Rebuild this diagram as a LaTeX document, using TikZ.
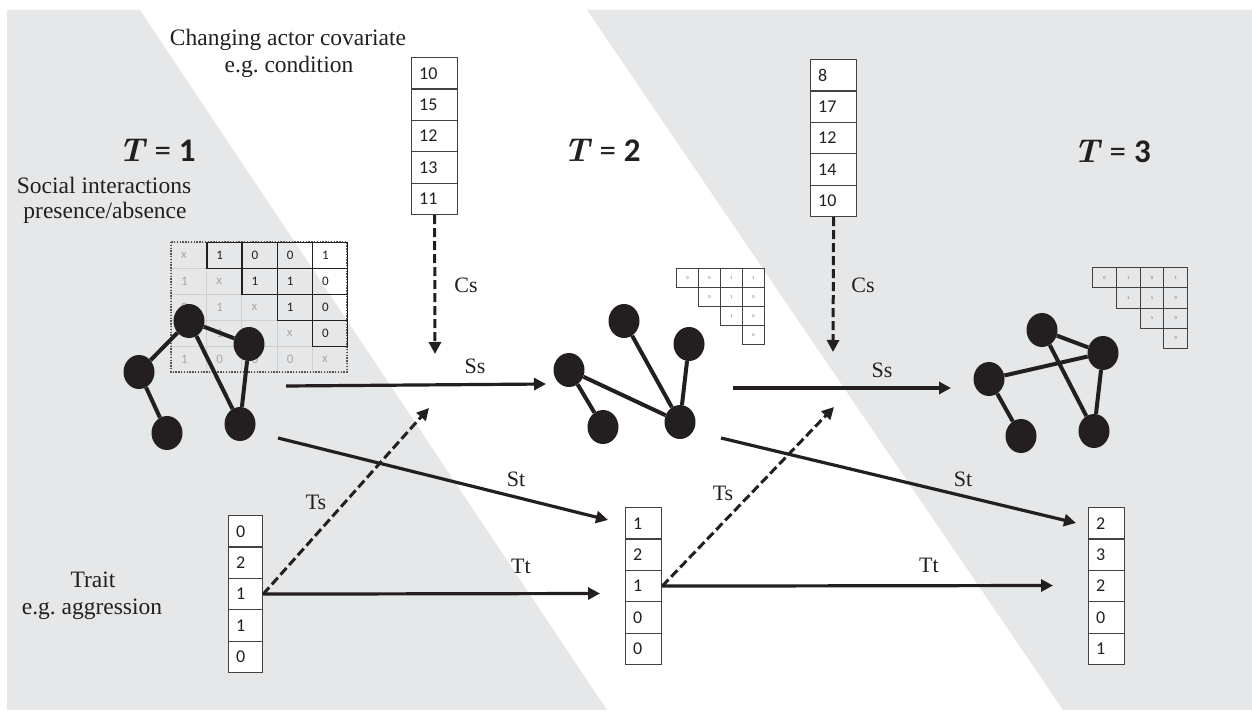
\documentclass[tikz,border=0pt]{standalone}
\usepackage{fontspec}
\setmainfont{Liberation Serif}
\newfontfamily\calib{Carlito}
\newfontfamily\lmbi{Latin Modern Roman}
\usetikzlibrary{arrows.meta,shapes.geometric}
\definecolor{bg}{HTML}{E6E7E8}
\definecolor{ink}{HTML}{231F20}
\definecolor{faint}{HTML}{A8A8A8}
\definecolor{faintline}{HTML}{CFCFCF}
\newcommand\vcolumn[5]{%
  \foreach \v [count=\i] in {#5} {
    \node[cellbox, minimum width=#4pt] (#1-\i) at (#2,{#3+(\i-1)*31.4}) {};
    \node[colnum] at ([xshift=8pt]#1-\i.west) {\v};
  }}
\newcommand\Tlab[1]{{\lmbi\bfseries\itshape T}\hspace{10pt}{\calib =}\hspace{8pt}{\calib\bfseries #1}}
\begin{document}
\begin{tikzpicture}[x=1pt,y=-1pt,
  serif/.style={font=\fontsize{23.5}{27}\selectfont, text=ink, inner sep=0},
  lbl/.style={font=\fontsize{22}{26}\selectfont, text=ink, inner sep=0},
  tlabel/.style={font=\fontsize{33}{37}\selectfont, text=ink, inner sep=0},
  cellbox/.style={rectangle, draw=ink!85, line width=1.2pt, fill=white, inner sep=0,
    minimum height=31.4pt, anchor=north west},
  colnum/.style={font=\calib\fontsize{18}{20}\selectfont, text=ink, anchor=west, inner sep=0},
  dot/.style={ellipse, fill=ink, minimum width=31pt, minimum height=34pt, inner sep=0},
  edge/.style={line width=4pt, draw=ink},
  arr/.style={line width=3.2pt, draw=ink, -{Triangle[length=12pt,width=12pt]}},
  darr/.style={arr, line width=3pt, dash pattern=on 9pt off 4pt},
  mup/.style={rectangle, draw=ink, line width=1.3pt, inner sep=0, anchor=north west,
    minimum width=35.2pt, minimum height=26pt},
  mlow/.style={rectangle, draw=faintline, line width=0.8pt, inner sep=0, anchor=north west,
    minimum width=35.2pt, minimum height=26pt},
  mnum/.style={font=\calib\fontsize{13}{15}\selectfont, anchor=west, inner sep=0},
  scell/.style={rectangle, draw=ink!85, line width=1.1pt, inner sep=0, anchor=north west},
  snum/.style={font=\calib\fontsize{4.5}{5}\selectfont, text=ink!70, inner sep=0}
]
\useasboundingbox (0,0) rectangle (1252,711);
% background
\fill[bg] (7,10) -- (140,10) -- (607,710) -- (7,710) -- cycle;
\fill[bg] (587,10) -- (1252,10) -- (1252,710) -- (1063,710) -- cycle;

% titles
\node[serif] (covt1) at (288,40) {Changing actor covariate};
\node[serif] (covt2) at (289,67) {e.g.\ condition};
\node[serif] (soc1) at (104,185) {Social interactions};
\node[serif] (soc2) at (105,213) {presence/absence};
\node[serif] (tr1) at (93,580) {Trait};
\node[serif] (tr2) at (92,609) {e.g.\ aggression};
\node[tlabel] (T1) at (157,150) {\Tlab{1}};
\node[tlabel] (T2) at (602,150) {\Tlab{2}};
\node[tlabel] (T3) at (1112,151) {\Tlab{3}};

% columns
\vcolumn{cov1}{411}{57}{46}{10,15,12,13,11}
\vcolumn{cov2}{810}{59}{46}{8,17,12,14,10}
\vcolumn{trA}{228}{515}{34}{0,2,1,1,0}
\vcolumn{trB}{625}{507}{36}{1,2,1,0,0}
\vcolumn{trC}{1088}{507}{36}{2,3,2,0,1}

% matrix 1 (lower part)
\foreach \row [count=\i] in {{x,1,0,0,1},{1,x,1,1,0},{0,1,x,1,0},{0,1,1,x,0},{1,0,0,0,x}} {
  \foreach \v [count=\j] in \row {
    \ifnum\j>\i\relax\else
      \node[mlow] (mA-\i-\j) at ({171+(\j-1)*35.2},{242+(\i-1)*26}) {};
      \node[mnum, text=faint] at ([xshift=10pt]mA-\i-\j.west) {\v};
    \fi
  }
}
\draw[ink!75, line width=1.2pt, dash pattern=on 1.4pt off 1.4pt] (171,242) rectangle (347,372);
\foreach \row [count=\i] in {{x,1,0,0,1},{1,x,1,1,0},{0,1,x,1,0},{0,1,1,x,0},{1,0,0,0,x}} {
  \foreach \v [count=\j] in \row {
    \ifnum\j>\i
      \node[mup] (mA-\i-\j) at ({171+(\j-1)*35.2},{242+(\i-1)*26}) {};
      \node[mnum, text=ink] at ([xshift=10pt]mA-\i-\j.west) {\v};
    \fi
  }
}

% matrix 2
\foreach \row [count=\i] in {{0,0,1,1},{0,1,0},{1,0},{0}} {
  \foreach \v [count=\k] in \row {
    \pgfmathtruncatemacro\j{\k+\i-1}
    \node[scell, minimum width=22pt, minimum height=19pt] (mB-\i-\j) at ({676+(\j-1)*22},{268+(\i-1)*19}) {};
    \node[snum] at (mB-\i-\j.center) {\v};
  }
}
% matrix 3
\foreach \row [count=\i] in {{0,1,0,1},{1,1,0},{1,0},{0}} {
  \foreach \v [count=\k] in \row {
    \pgfmathtruncatemacro\j{\k+\i-1}
    \node[scell, minimum width=23.75pt, minimum height=20.25pt] (mC-\i-\j) at ({1092+(\j-1)*23.75},{267+(\i-1)*20.25}) {};
    \node[snum] at (mC-\i-\j.center) {\v};
  }
}

% network 1
\node[dot] (a1) at (189,321) {};
\node[dot] (b1) at (249,344) {};
\node[dot] (c1) at (139,372) {};
\node[dot] (d1) at (167,433) {};
\node[dot] (e1) at (240,424) {};
\draw[edge] (a1) -- (b1) (a1) -- (c1) (a1) -- (e1) (b1) -- (e1) (c1) -- (d1);
% network 2
\node[dot] (a2) at (624,321) {};
\node[dot] (b2) at (689,344) {};
\node[dot] (c2) at (569,370) {};
\node[dot] (d2) at (603,427) {};
\node[dot] (e2) at (680,422) {};
\draw[edge] (a2) -- (e2) (b2) -- (e2) (c2) -- (e2) (c2) -- (d2);
% network 3
\node[dot] (a3) at (1042,330) {};
\node[dot] (b3) at (1103,353) {};
\node[dot] (c3) at (989,379) {};
\node[dot] (d3) at (1021,436) {};
\node[dot] (e3) at (1094,431) {};
\draw[edge] (a3) -- (b3) (a3) -- (e3) (c3) -- (b3) (c3) -- (d3) (b3) -- (e3);

% arrow end points
\coordinate (cs1e) at (435,354);
\coordinate (cs2e) at (833,352);
\coordinate (ss1s) at (286,386);
\coordinate (ss1e) at (546,384);
\coordinate (st1s) at (278,438);
\coordinate (st1e) at (608,520);
\coordinate (ts1e) at (429,408);
\coordinate (tt1e) at (600,593.5);
\coordinate (ss2s) at (733,388);
\coordinate (ss2e) at (951,388);
\coordinate (st2s) at (721,438);
\coordinate (st2e) at (1076,523);
\coordinate (ts2e) at (834,407);
\coordinate (tt2e) at (1053,585.5);

\draw[darr] (cov1-5.south) -- (cs1e);
\draw[darr] (cov2-5.south) -- (cs2e);
\draw[arr] (ss1s) -- (ss1e);
\draw[arr] (st1s) -- (st1e);
\draw[darr] (trA-3.east) -- (ts1e);
\draw[arr] (trA-3.east) -- (tt1e);
\draw[arr] (ss2s) -- (ss2e);
\draw[arr] (st2s) -- (st2e);
\draw[darr] (trB-3.east) -- (ts2e);
\draw[arr] (trB-3.east) -- (tt2e);

% arrow labels
\node[lbl] (lcs1) at (466,285) {Cs};
\node[lbl] (lcs2) at (863,285) {Cs};
\node[lbl] (lss1) at (475,366) {Ss};
\node[lbl] (lss2) at (882,370) {Ss};
\node[lbl] (lst1) at (516,479) {St};
\node[lbl] (lst2) at (963,479) {St};
\node[lbl] (lts1) at (316,502) {Ts};
\node[lbl] (lts2) at (723,493) {Ts};
\node[lbl] (ltt1) at (521,566) {Tt};
\node[lbl] (ltt2) at (929,565) {Tt};
\end{tikzpicture}
\end{document}
